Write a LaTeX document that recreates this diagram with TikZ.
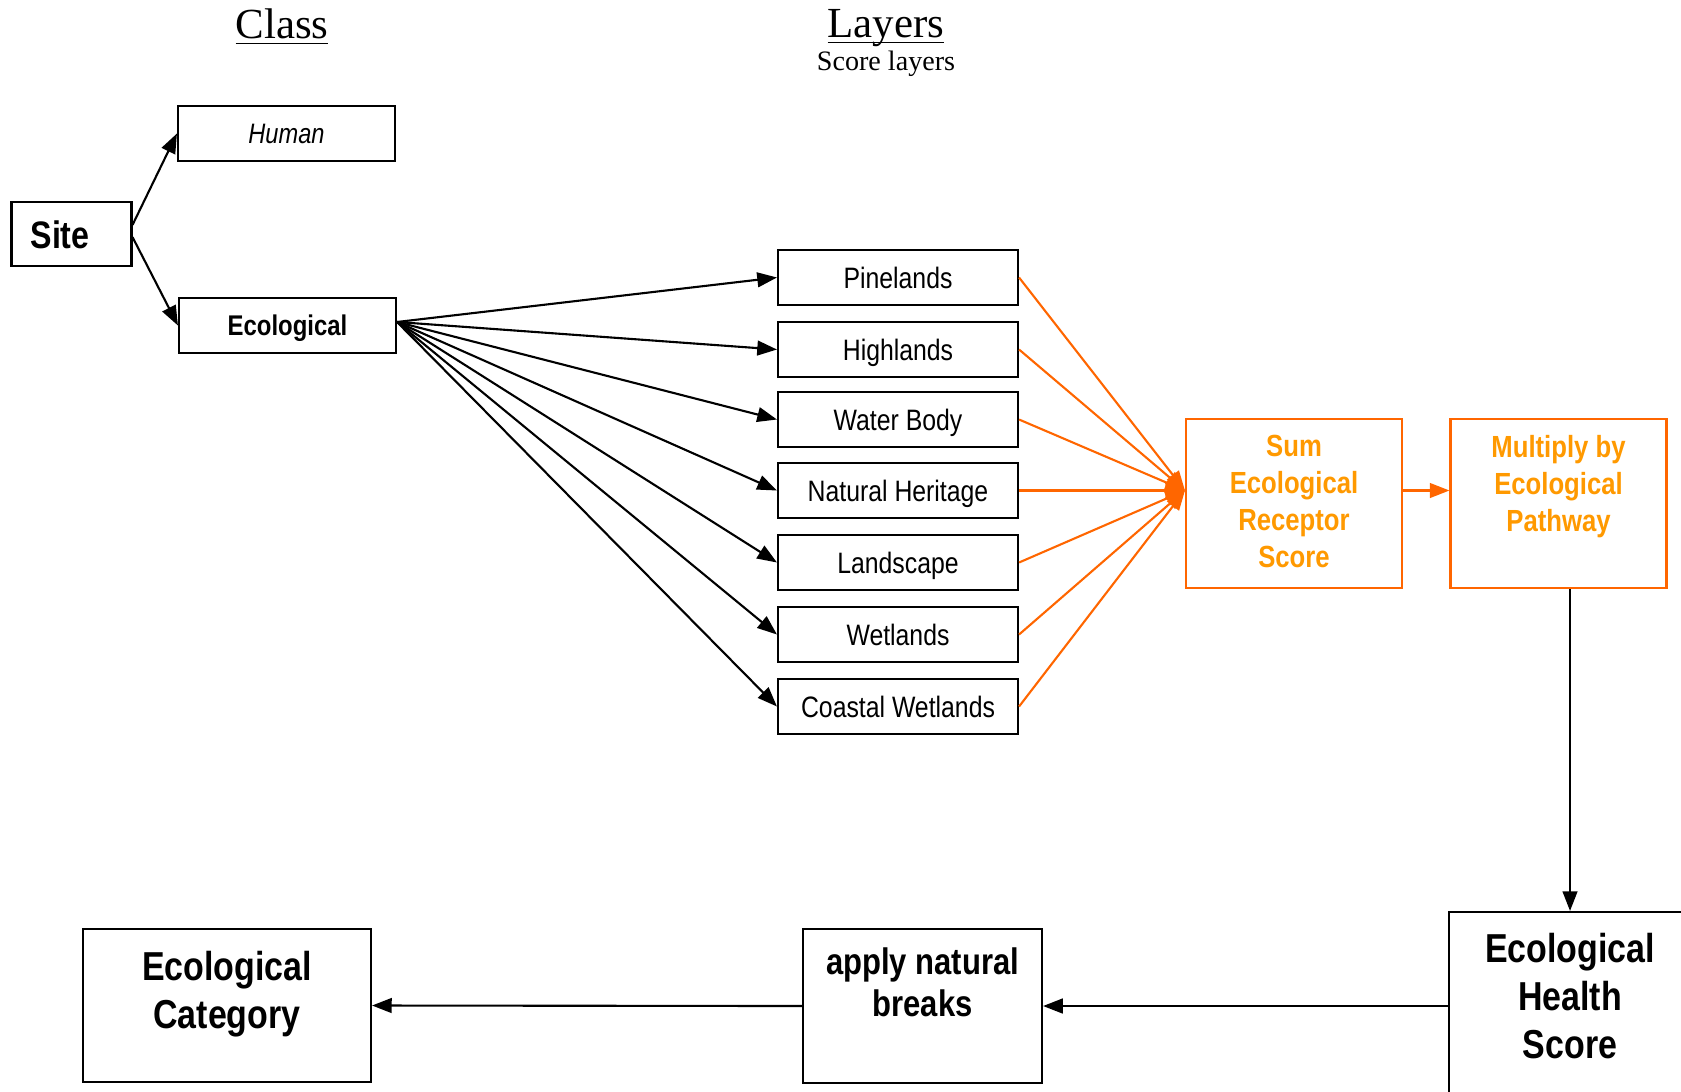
\documentclass[tikz,border=0pt]{standalone}
\usepackage{fontspec}
\setmainfont{Liberation Sans}[FakeStretch=0.84]
\newfontfamily\timesfont{Liberation Serif}
\usetikzlibrary{arrows.meta}
\definecolor{ecoline}{HTML}{FF6600}
\definecolor{ecotext}{HTML}{FF9900}

\begin{document}
\begin{tikzpicture}[
        box/.style={draw, line width=0.6pt, inner sep=0pt, align=center},
        smallbox/.style={box, minimum width=2.17cm, minimum height=0.55cm, text depth=0pt},
        layer/.style={box, minimum width=2.40cm, minimum height=0.55cm,
            text height=6pt, text depth=0pt, font=\fontsize{8.4}{10}\selectfont},
        obox/.style={box, draw=ecoline, minimum width=2.16cm, minimum height=1.69cm},
        toptext/.style={anchor=north, inner sep=0pt, align=center},
        otext/.style={toptext, text=ecotext, yshift=-4.8pt,
            font=\fontsize{8.7}{10.5}\selectfont\bfseries},
        bigtext/.style={toptext, font=\fontsize{11.5}{13.7}\selectfont\bfseries},
        head/.style={anchor=base, inner sep=0pt, font=\timesfont\fontsize{12.2}{14}\selectfont},
        arr/.style={line width=0.6pt, -{Triangle[length=5.6pt, width=4.2pt]}},
        oarr/.style={arr, draw=ecoline, fill=ecoline}
    ]
    \useasboundingbox (0,0) rectangle (16.81,-10.91);

    \node[head] (class)  at (2.82,-0.385) {\underline{\smash{Class}}};
    \node[head] (layers) at (8.86,-0.375) {\underline{\smash{Layers}}};
    \node[anchor=base, inner sep=0pt, font=\timesfont\fontsize{8}{9.6}\selectfont]
        (scorelayers) at (8.86,-0.705) {Score layers};

    \node[box, minimum width=1.20cm, minimum height=0.64cm, text height=8pt, text depth=0pt,
        font=\fontsize{10.9}{12.5}\selectfont\bfseries] (site) at (0.715,-2.34) {Site\hspace{6.5pt}};
    \node[smallbox, text height=5.7pt, font=\fontsize{8}{9.5}\selectfont\itshape]
        (human) at (2.865,-1.335) {Human};
    \node[smallbox, text height=5.8pt, font=\fontsize{8.1}{9.5}\selectfont\bfseries]
        (ecol)  at (2.875,-3.255) {Ecological};

    \node[layer] (pine)  at (8.98,-2.775) {Pinelands};
    \node[layer] (high)  at (8.98,-3.495) {Highlands};
    \node[layer] (water) at (8.98,-4.195) {Water Body};
    \node[layer] (nat)   at (8.98,-4.905) {Natural Heritage};
    \node[layer] (land)  at (8.98,-5.625) {Landscape};
    \node[layer] (wet)   at (8.98,-6.345) {Wetlands};
    \node[layer] (coast) at (8.98,-7.065) {Coastal Wetlands};

    \node[obox, label={[otext]90:{Sum\\Ecological\\Receptor\\Score}}]
        (sum)  at (12.94,-5.035) {};
    \node[obox, label={[otext]90:{Multiply by\\Ecological\\Pathway}}]
        (mult) at (15.585,-5.035) {};

    \node[box, minimum width=2.42cm, minimum height=1.88cm,
        label={[bigtext, yshift=-6pt]90:{Ecological\\Health\\Score}}]
        (health) at (15.70,-10.06) {};
    \node[box, minimum width=2.39cm, minimum height=1.54cm,
        label={[bigtext, yshift=-5.4pt, font=\fontsize{10.5}{12}\selectfont\bfseries]90:{apply natural\\breaks}}]
        (apply)  at (9.225,-10.06) {};
    \node[box, minimum width=2.88cm, minimum height=1.53cm,
        label={[bigtext, yshift=-6.5pt]90:{Ecological\\Category}}]
        (cat)    at (2.27,-10.055) {};

    \coordinate (fan) at ([yshift=1pt]ecol.east);
    \coordinate (hub) at (sum.west |- nat.east);

    \draw[arr] ([yshift=2.6pt]site.east)  -- (human.west);
    \draw[arr] ([yshift=-0.9pt]site.east) -- (ecol.west);

    \draw[arr] (fan) -- (pine.west);
    \draw[arr] (fan) -- (high.west);
    \draw[arr] (fan) -- (water.west);
    \draw[arr] (fan) -- (nat.west);
    \draw[arr] (fan) -- (land.west);
    \draw[arr] (fan) -- (wet.west);
    \draw[arr] (fan) -- (coast.west);

    \draw[oarr] (pine.east)  -- (hub);
    \draw[oarr] (high.east)  -- (hub);
    \draw[oarr] (water.east) -- (hub);
    \draw[oarr] (nat.east)   -- (hub);
    \draw[oarr] (land.east)  -- (hub);
    \draw[oarr] (wet.east)   -- (hub);
    \draw[oarr] (coast.east) -- (hub);
    \draw[oarr] (sum.east |- hub) -- (mult.west |- hub);

    \draw[arr] (mult.south -| health.north) -- (health.north);
    \draw[arr] (health.west) -- (apply.east);
    \draw[arr] (apply.west)  -- (cat.east);
\end{tikzpicture}
\end{document}
